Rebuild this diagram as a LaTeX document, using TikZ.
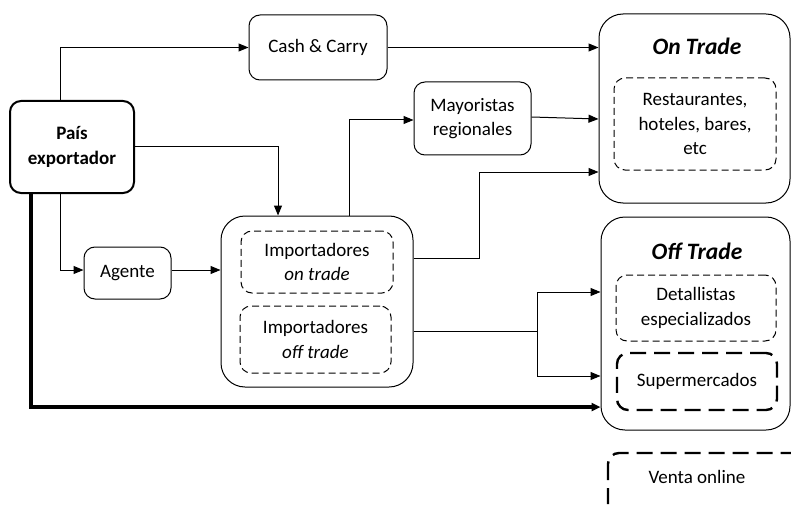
\documentclass[tikz,border=0pt]{standalone}
\usepackage{fontspec}
\setmainfont{Carlito}
\usetikzlibrary{arrows.meta}
\begin{document}
\begin{tikzpicture}[x=1pt,y=-1pt,
  every node/.style={font=\fontsize{19}{24.5}\selectfont, align=center, inner sep=0pt},
  box/.style={draw, line width=1pt, rounded corners=11pt},
  bigbox/.style={draw, line width=1pt, rounded corners=24pt},
  dbox/.style={draw, line width=1pt, rounded corners=11pt, dash pattern=on 7pt off 4pt},
  tdbox/.style={draw, line width=2.4pt, rounded corners=11pt, dash pattern=on 16pt off 8pt},
  conn/.style={line width=1pt, -{Triangle[length=10pt,width=8pt]}},
  thickconn/.style={line width=3.2pt, -{Triangle[length=9pt,width=8pt]}},
  title/.style={font=\fontsize{23.5}{26}\selectfont\bfseries\itshape}
]
\useasboundingbox (0,0) rectangle (791,505);

% boxes
\node[box, line width=2pt, minimum width=124pt, minimum height=92pt, font=\fontsize{19}{24.5}\selectfont\bfseries] (pais) at (72,147) {País\\exportador};
\node[box, minimum width=138pt, minimum height=65pt] (cash) at (318,47.5) {Cash \& Carry};
\node[box, minimum width=117pt, minimum height=73pt] (mayor) at (472.5,118.5) {Mayoristas\\regionales};
\node[box, minimum width=87pt, minimum height=52pt] (agente) at (127.5,273) {Agente};
\node[box, rounded corners=24pt, minimum width=192pt, minimum height=171pt] (imp) at (317,301.5) {};
\node[dbox, minimum width=152pt, minimum height=62pt] (impon) at (317,262) {Importadores\\\textit{on trade}};
\node[dbox, minimum width=151pt, minimum height=67pt] (impoff) at (315.5,339.5) {Importadores\\\textit{off trade}};

\node[bigbox, minimum width=191pt, minimum height=189pt] (ontrade) at (694.5,108.5) {};
\node[title] (ontitle) at (697,46) {On Trade};
\node[dbox, minimum width=162pt, minimum height=92pt] (rest) at (695,124) {Restaurantes,\\hoteles, bares,\\etc};

\node[bigbox, minimum width=189pt, minimum height=213pt] (offtrade) at (695.5,323.5) {};
\node[title] (offtitle) at (697,251) {Off Trade};
\node[dbox, minimum width=160pt, minimum height=66pt] (detal) at (696,308) {Detallistas\\especializados};
\node[tdbox, minimum width=160pt, minimum height=57pt] (super) at (697,381.5) {Supermercados};

\draw[line width=2.4pt, rounded corners=11pt, dash pattern=on 16pt off 8pt] (608,453) rectangle (820,540);
\node (venta) at (697,477) {Venta online};

% helper coordinates
\coordinate (c8) at (479,172);
\coordinate (split) at (537,331);
\coordinate (s1) at (537,292);
\coordinate (s2) at (537,376);
\coordinate (tk) at (31,407);

% connectors
\draw[conn] ([xshift=-12pt]pais.north) |- (cash.west);
\draw[conn] (cash.east) -- (cash.east -| ontrade.west);
\draw[conn] (pais.east) -| ([xshift=-39pt]imp.north);
\draw[conn] ([xshift=-12pt]pais.south) |- ([yshift=3pt]agente.west);
\draw[conn] ([yshift=3pt]agente.east) -- ([yshift=3pt]agente.east -| imp.west);
\draw[conn] ([xshift=32pt]imp.north) |- ([yshift=-1.5pt]mayor.west);
\draw[conn] ([yshift=1.5pt]mayor.east) -- ([yshift=-0.5pt]mayor.east -| ontrade.west);
\draw[conn] ([yshift=43.5pt]imp.east) -| (c8) -- (c8 -| ontrade.west);
\draw[line width=1pt] ([yshift=-29.5pt]imp.east) -- (split);
\draw[conn] (split) -- (s1) -- (s1 -| offtrade.west);
\draw[conn] (split) -- (s2) -- (s2 -| offtrade.west);
\draw[thickconn] (pais.south -| tk) |- (tk -| offtrade.west);
\end{tikzpicture}
\end{document}
